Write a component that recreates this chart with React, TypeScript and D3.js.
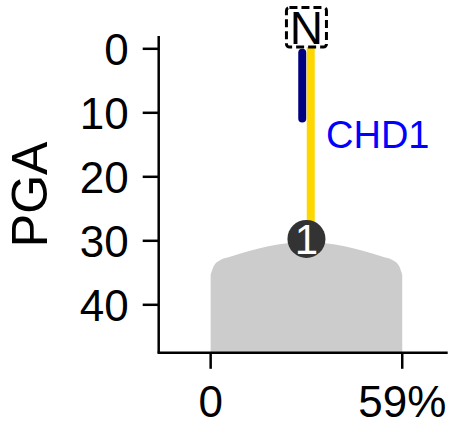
import React from "react";
import * as d3 from "d3";

// ---- data ----
const yTicks = [0, 10, 20, 30, 40];
const xTicks = [0, 59];
const xTickLabels = ["0", "59%"];
const yLabel = "PGA";

// density-like background shape profile (percent, PGA)
const shapeX = [0, 1, 3, 6, 29.5, 53, 56, 58, 59];
const shapeY = [35.3, 33.9, 33.0, 32.5, 30.2, 32.5, 33.0, 33.9, 35.3];
const shapeBase = 47.5;

// vertical segments at the event position
const eventX = 29.5;
const segNames = ["navy", "gold"];
const segStart = [0.6, -0.3];
const segEnd = [10.9, 28];
const segColors = ["#000080", "#FFD700"];
const segOffsets = [-4.2, 4.3];

const markerY = 29.7;
const markerLabel = "1";
const topLabel = "N";
const geneLabel = "CHD1";

export default function App() {
  const W = 455, H = 426;
  const x = d3.scaleLinear().domain([-16, 73]).range([158.7, 447.7]);
  const y = d3.scaleLinear().domain([-2, 47.5]).range([36, 352.8]);

  const pts = shapeX.map((v, i) => [v, shapeY[i]] as [number, number]);
  const area = d3
    .area<[number, number]>()
    .x((d) => x(d[0]))
    .y0(() => y(shapeBase))
    .y1((d) => y(d[1]))
    .curve(d3.curveMonotoneX);

  const font = "Liberation Sans, Arial, sans-serif";
  const x0 = x(-16);
  const y1 = y(47.5);

  return (
    <div>
      <style>{`body{margin:0}`}</style>
      <svg width={W} height={H} style={{ display: "block" }}>
        <path d={area(pts) || ""} fill="#cccccc" />
        {segNames.map((n, i) => (
          <line
            key={n}
            x1={x(eventX) + segOffsets[i]}
            x2={x(eventX) + segOffsets[i]}
            y1={y(segStart[i])}
            y2={y(segEnd[i])}
            stroke={segColors[i]}
            strokeWidth={8}
            strokeLinecap={i === 0 ? "round" : "butt"}
          />
        ))}
        <circle cx={x(eventX)} cy={y(markerY)} r={19} fill="#333333" />
        <text
          x={x(eventX)}
          y={y(markerY) + 15}
          textAnchor="middle"
          fontFamily={font}
          fontSize={42}
          fill="#ffffff"
        >
          {markerLabel}
        </text>
        <rect
          x={x(eventX) - 20}
          y={7.5}
          width={40}
          height={39.5}
          rx={3}
          fill="none"
          stroke="#000"
          strokeWidth={3}
          strokeDasharray="8,4"
        />
        <text
          x={x(eventX)}
          y={44}
          textAnchor="middle"
          fontFamily={font}
          fontSize={46}
          fill="#000"
        >
          {topLabel}
        </text>
        <text x={326} y={148} fontFamily={font} fontSize={38} fill="#0000ff">
          {geneLabel}
        </text>

        {/* y axis */}
        <line x1={x0} x2={x0} y1={y(-2)} y2={y1} stroke="#000" strokeWidth={2.5} />
        {yTicks.map((t) => (
          <g key={t}>
            <line x1={x0 - 16} x2={x0} y1={y(t)} y2={y(t)} stroke="#000" strokeWidth={2.5} />
            <text
              x={x0 - 30}
              y={y(t)}
              dy="0.36em"
              textAnchor="end"
              fontFamily={font}
              fontSize={44}
              fill="#000"
            >
              {t}
            </text>
          </g>
        ))}
        <text
          transform={`translate(47,${(y(-2) + y1) / 2}) rotate(-90)`}
          textAnchor="middle"
          fontFamily={font}
          fontSize={50}
          fill="#000"
        >
          {yLabel}
        </text>

        {/* x axis */}
        <line x1={x0 - 1.2} x2={x(73)} y1={y1} y2={y1} stroke="#000" strokeWidth={2.5} />
        {xTicks.map((t, i) => (
          <g key={t}>
            <line x1={x(t)} x2={x(t)} y1={y1} y2={y1 + 16} stroke="#000" strokeWidth={2.5} />
            <text
              x={x(t)}
              y={417}
              textAnchor="middle"
              fontFamily={font}
              fontSize={44}
              fill="#000"
            >
              {xTickLabels[i]}
            </text>
          </g>
        ))}
      </svg>
    </div>
  );
}
